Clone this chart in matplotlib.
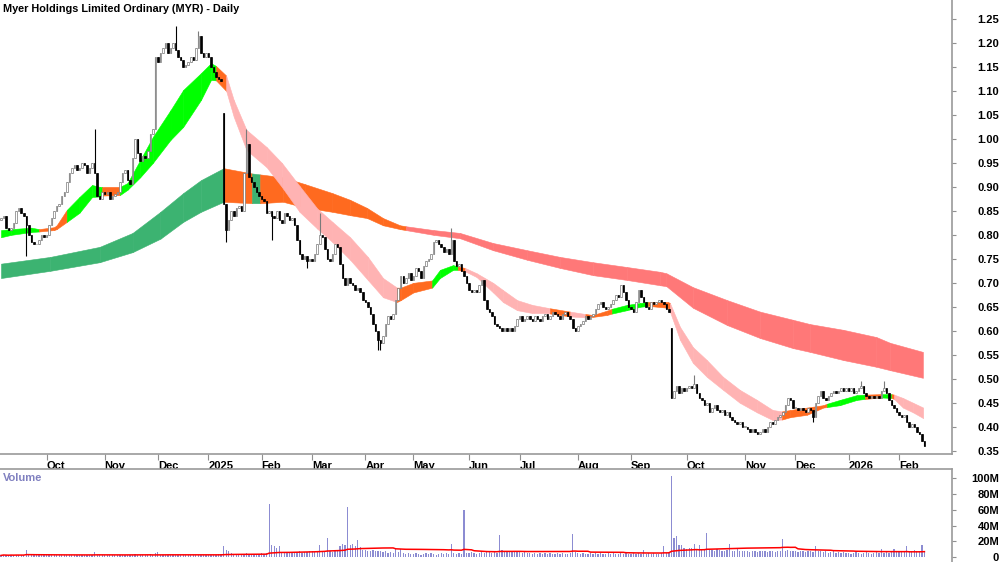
import numpy as np
import pandas as pd
import matplotlib
matplotlib.use('Agg')
import matplotlib.pyplot as plt
from matplotlib.transforms import ScaledTranslation

plt.rcParams['font.family'] = ['Liberation Sans', 'DejaVu Sans']

title = 'Myer Holdings Limited Ordinary (MYR) - Daily'

# ASX trading days shown on the chart
asx_holidays = ['2024-12-25', '2024-12-26', '2025-01-01', '2025-01-27', '2025-04-18',
                '2025-04-21', '2025-04-25', '2025-06-09', '2025-12-25', '2025-12-26',
                '2026-01-01', '2026-01-26']
dates = pd.bdate_range('2024-09-05', '2026-02-16', freq='C', holidays=asx_holidays)

# daily closes, month by month
close_sep24 = [0.835, 0.84, 0.815, 0.81, 0.815, 0.825, 0.85, 0.855, 0.845, 0.84, 0.82, 0.80,
               0.785, 0.78, 0.78, 0.79, 0.80, 0.795]
close_oct24 = [0.80, 0.82, 0.835, 0.85, 0.86, 0.865, 0.88, 0.89, 0.91, 0.93, 0.94, 0.945,
               0.935, 0.94, 0.95, 0.945, 0.93, 0.94, 0.95, 0.93, 0.88, 0.875, 0.89]
close_nov24 = [0.885, 0.89, 0.875, 0.88, 0.885, 0.89, 0.91, 0.93, 0.935, 0.915, 0.905, 0.96,
               1.0, 0.97, 0.955, 0.965, 0.96, 0.975, 1.01, 1.02, 1.17]
close_dec24 = [1.16, 1.18, 1.19, 1.20, 1.18, 1.19, 1.20, 1.185, 1.17, 1.165, 1.15, 1.155,
               1.16, 1.17, 1.165, 1.19, 1.215, 1.18, 1.17, 1.18]
close_jan25 = [1.17, 1.15, 1.14, 1.13, 1.125, 1.12, 0.865, 0.81, 0.83, 0.85, 0.84, 0.855,
               0.86, 0.85, 0.93, 0.99, 0.92, 0.91, 0.90, 0.89, 0.88]
close_feb25 = [0.875, 0.87, 0.845, 0.85, 0.84, 0.835, 0.85, 0.83, 0.825, 0.845, 0.84, 0.83,
               0.835, 0.82, 0.79, 0.76, 0.75, 0.755, 0.745, 0.75]
close_mar25 = [0.745, 0.76, 0.78, 0.80, 0.795, 0.77, 0.75, 0.745, 0.76, 0.78, 0.775, 0.74,
               0.71, 0.695, 0.71, 0.70, 0.695, 0.685, 0.69, 0.68, 0.665]
close_apr25 = [0.66, 0.65, 0.635, 0.615, 0.60, 0.58, 0.575, 0.59, 0.615, 0.63, 0.625, 0.635,
               0.665, 0.69, 0.715, 0.70, 0.71, 0.72, 0.705]
close_may25 = [0.715, 0.73, 0.725, 0.71, 0.735, 0.745, 0.75, 0.76, 0.785, 0.79, 0.78, 0.775,
               0.765, 0.77, 0.76, 0.79, 0.745, 0.735, 0.74, 0.725, 0.715, 0.70]
close_jun25 = [0.685, 0.68, 0.685, 0.68, 0.695, 0.705, 0.665, 0.645, 0.64, 0.63, 0.615, 0.61,
               0.605, 0.60, 0.605, 0.60, 0.605, 0.60, 0.61, 0.625]
close_jul25 = [0.63, 0.62, 0.625, 0.63, 0.625, 0.62, 0.63, 0.625, 0.62, 0.63, 0.635, 0.625,
               0.63, 0.64, 0.635, 0.63, 0.625, 0.635, 0.64, 0.63, 0.625, 0.605, 0.60]
close_aug25 = [0.61, 0.615, 0.62, 0.63, 0.625, 0.63, 0.635, 0.645, 0.655, 0.66, 0.65, 0.645,
               0.65, 0.655, 0.665, 0.675, 0.67, 0.695, 0.68, 0.665, 0.65]
close_sep25 = [0.645, 0.64, 0.66, 0.685, 0.67, 0.66, 0.65, 0.645, 0.66, 0.655, 0.66, 0.665,
               0.66, 0.655, 0.645, 0.64, 0.46, 0.475, 0.485, 0.47, 0.48, 0.475]
close_oct25 = [0.48, 0.485, 0.48, 0.49, 0.47, 0.46, 0.455, 0.445, 0.45, 0.43, 0.44, 0.445,
               0.435, 0.43, 0.435, 0.425, 0.43, 0.42, 0.415, 0.41, 0.405, 0.41, 0.40]
close_nov25 = [0.40, 0.395, 0.39, 0.395, 0.39, 0.385, 0.39, 0.395, 0.39, 0.40, 0.41, 0.405,
               0.415, 0.42, 0.425, 0.43, 0.445, 0.46, 0.455, 0.44]
close_dec25 = [0.44, 0.435, 0.44, 0.435, 0.43, 0.44, 0.435, 0.42, 0.45, 0.465, 0.475, 0.46,
               0.455, 0.465, 0.47, 0.475, 0.47, 0.475, 0.48, 0.475, 0.48]
close_jan26 = [0.475, 0.48, 0.47, 0.475, 0.48, 0.485, 0.47, 0.465, 0.46, 0.465, 0.46, 0.465,
               0.46, 0.475, 0.48, 0.47, 0.455, 0.445, 0.44, 0.43]
close_feb26 = [0.425, 0.42, 0.425, 0.41, 0.40, 0.405, 0.40, 0.39, 0.385, 0.37, 0.36]

# gap opens and the visible wick extremes (day index -> price)
gap_open = {0: 0.83, 88: 1.055, 265: 0.605}
wick_high = {37: 1.02, 69: 1.235, 78: 1.225, 97: 1.02, 126: 0.845, 178: 0.815,
             274: 0.508, 340: 0.495, 349: 0.495}
wick_low = {10: 0.755, 89: 0.785, 107: 0.79, 121: 0.73, 149: 0.56, 150: 0.56, 321: 0.41}

# volume in millions
vol_sep24 = [2, 3, 2, 2, 3, 2, 3, 2, 3, 2, 9, 3, 2, 3, 2, 2, 3, 2]
vol_oct24 = [3, 2, 2, 3, 2, 3, 2, 2, 3, 2, 3, 2, 2, 3, 2, 2, 3, 2, 3, 6, 3, 2, 3]
vol_nov24 = [2, 3, 2, 2, 3, 2, 3, 2, 2, 3, 2, 3, 4, 3, 2, 3, 2, 3, 4, 3, 5]
vol_dec24 = [6, 3, 2, 3, 2, 3, 2, 2, 3, 2, 2, 3, 2, 2, 3, 2, 3, 2, 2, 2]
vol_jan25 = [2, 3, 3, 3, 4, 4, 14, 9, 7, 5, 4, 4, 3, 3, 4, 5, 4, 3, 4, 3, 4]
vol_feb25 = [5, 4, 5, 67, 15, 14, 12, 14, 5, 6, 5, 5, 6, 5, 6, 7, 5, 6, 6, 7]
vol_mar25 = [7, 6, 8, 15, 7, 8, 24, 7, 6, 8, 7, 14, 16, 15, 63, 15, 17, 14, 21, 13, 9]
vol_apr25 = [9, 8, 7, 9, 8, 7, 8, 6, 7, 5, 6, 5, 11, 6, 10, 5, 4, 5, 4]
vol_may25 = [4, 5, 4, 3, 4, 5, 4, 5, 4, 3, 4, 5, 4, 5, 4, 16, 5, 4, 5, 4, 60, 5]
vol_jun25 = [5, 6, 5, 4, 5, 6, 5, 8, 6, 5, 6, 5, 28, 9, 7, 8, 6, 7, 6, 7]
vol_jul25 = [6, 5, 6, 5, 5, 4, 5, 4, 5, 4, 5, 4, 5, 4, 4, 5, 4, 5, 4, 4, 5, 29, 6]
vol_aug25 = [5, 4, 5, 4, 4, 5, 4, 5, 4, 5, 4, 4, 5, 4, 5, 4, 4, 5, 4, 5, 4]
vol_sep25 = [4, 5, 4, 5, 4, 9, 4, 5, 4, 5, 4, 4, 5, 14, 5, 6, 103, 24, 27, 15, 15, 12]
vol_oct25 = [10, 12, 11, 17, 9, 15, 10, 9, 30, 10, 9, 8, 10, 9, 8, 7, 9, 17, 8, 7, 12, 8, 7]
vol_nov25 = [7, 8, 6, 7, 8, 6, 7, 8, 7, 6, 8, 7, 6, 8, 7, 23, 8, 9, 7, 8]
vol_dec25 = [7, 6, 8, 7, 6, 7, 8, 6, 14, 8, 7, 6, 7, 5, 6, 7, 5, 6, 5, 6, 5]
vol_jan26 = [5, 4, 5, 6, 5, 4, 5, 6, 5, 4, 5, 6, 5, 10, 5, 6, 5, 6, 10, 6]
vol_feb26 = [7, 6, 8, 14, 7, 8, 9, 8, 7, 15, 8]

# short-term ribbon edges (day index, low, high, trend state)
st_day = [0, 4, 12, 15, 21, 22, 26, 31, 36, 39,
          40, 47, 50, 55, 60, 67, 72, 79, 83, 85,
          89, 92, 97, 105, 111, 118, 125, 131, 138, 145,
          151, 156.5, 158, 163, 170.4, 173.5, 178.7, 180.6, 183.4, 188,
          194.5, 198.4, 204, 210, 216, 217, 225, 231, 234, 239.5,
          241.5, 247.4, 252.6, 255.7, 263.6, 264.4, 268.4, 273.5, 279, 285.4,
          292, 298.8, 305, 308.7, 312, 318.6, 325, 326.5, 331.6, 338.3,
          341.5, 348, 352, 353, 356.5, 360.5, 364.5]
st_lo = [0.795, 0.800, 0.806, 0.807, 0.810, 0.812, 0.827, 0.846, 0.879, 0.880,
         0.882, 0.883, 0.894, 0.920, 0.950, 0.998, 1.025, 1.081, 1.123, 1.122,
         1.100, 1.046, 0.977, 0.941, 0.900, 0.848, 0.813, 0.785, 0.748, 0.706,
         0.670, 0.660, 0.664, 0.680, 0.690, 0.710, 0.727, 0.727, 0.724, 0.712,
         0.680, 0.660, 0.643, 0.637, 0.637, 0.636, 0.630, 0.628, 0.629, 0.633,
         0.636, 0.643, 0.650, 0.652, 0.648, 0.640, 0.581, 0.533, 0.504, 0.477,
         0.450, 0.430, 0.414, 0.415, 0.420, 0.425, 0.440, 0.441, 0.445, 0.456,
         0.458, 0.461, 0.460, 0.458, 0.440, 0.430, 0.418]
st_hi = [0.810, 0.812, 0.815, 0.812, 0.816, 0.820, 0.852, 0.879, 0.904, 0.900,
         0.900, 0.900, 0.908, 0.956, 1.004, 1.060, 1.102, 1.137, 1.158, 1.152,
         1.132, 1.081, 1.019, 0.983, 0.950, 0.902, 0.855, 0.827, 0.795, 0.754,
         0.710, 0.690, 0.690, 0.700, 0.705, 0.727, 0.737, 0.734, 0.731, 0.720,
         0.700, 0.685, 0.664, 0.654, 0.648, 0.647, 0.640, 0.635, 0.633, 0.642,
         0.646, 0.654, 0.658, 0.660, 0.660, 0.658, 0.608, 0.566, 0.539, 0.504,
         0.477, 0.456, 0.435, 0.432, 0.435, 0.440, 0.445, 0.448, 0.456, 0.466,
         0.467, 0.468, 0.468, 0.467, 0.460, 0.450, 0.440]
st_state = list('gggooogggg' 'oggggggggo' 'pppppppppp' 'pooogggopp'
                'pppppopooo' 'gggooppppp' 'pppoooogg g'.replace(' ', '') + 'ogopppp')

# long-term ribbon edges
lt_day = [0, 19.4, 39, 52, 63, 72, 79, 88, 99.2, 102.4, 111.5, 120, 131, 138, 144.7, 151,
          157.7, 160, 171, 181.4, 194.5, 208, 221, 234, 247.4, 260.5, 263, 273.5, 287, 300,
          313, 319.8, 333, 346, 351.4, 364.4]
lt_lo = [0.710, 0.725, 0.743, 0.764, 0.792, 0.827, 0.848, 0.869, 0.866, 0.866, 0.869, 0.857,
         0.848, 0.841, 0.835, 0.820, 0.812, 0.810, 0.800, 0.793, 0.768, 0.748, 0.731, 0.716,
         0.706, 0.695, 0.693, 0.648, 0.612, 0.585, 0.564, 0.556, 0.539, 0.525, 0.518, 0.502]
lt_hi = [0.740, 0.754, 0.775, 0.804, 0.848, 0.887, 0.914, 0.939, 0.928, 0.926, 0.920, 0.906,
         0.887, 0.873, 0.856, 0.835, 0.820, 0.818, 0.810, 0.804, 0.783, 0.768, 0.754, 0.743,
         0.733, 0.723, 0.720, 0.691, 0.664, 0.640, 0.623, 0.614, 0.602, 0.587, 0.575, 0.556]
lt_state = list('dddddddodoooooooo' + 'rrrrrrrrrrrrrrrrrrr')

ribbon_colors = {'g': '#00ff00', 'o': '#ff6a1f', 'p': '#ffb3b3', 'd': '#3cb371', 'r': '#ff7878'}

closes = np.array(close_sep24 + close_oct24 + close_nov24 + close_dec24 + close_jan25
                  + close_feb25 + close_mar25 + close_apr25 + close_may25 + close_jun25
                  + close_jul25 + close_aug25 + close_sep25 + close_oct25 + close_nov25
                  + close_dec25 + close_jan26 + close_feb26)
volume = np.array(vol_sep24 + vol_oct24 + vol_nov24 + vol_dec24 + vol_jan25 + vol_feb25
                  + vol_mar25 + vol_apr25 + vol_may25 + vol_jun25 + vol_jul25 + vol_aug25
                  + vol_sep25 + vol_oct25 + vol_nov25 + vol_dec25 + vol_jan26 + vol_feb26) * 1e6

n = len(closes)
x = np.arange(n)
opens = np.r_[closes[0], closes[:-1]]
for k, v in gap_open.items():
    opens[k] = v
body_lo = np.minimum(opens, closes)
body_hi = np.maximum(opens, closes)
highs = body_hi.copy()
lows = body_lo.copy()
for k, v in wick_high.items():
    highs[k] = v
for k, v in wick_low.items():
    lows[k] = v

fig = plt.figure(figsize=(10, 5.62), dpi=100)
ax = fig.add_axes([0, 1 - 454 / 562, 0.952, 454 / 562])
axv = fig.add_axes([0, 0, 0.952, 93 / 562])


def draw_ribbon(a, days, lo, hi, states):
    for k in range(len(days) - 1):
        c = ribbon_colors[states[k]]
        a.fill_between(days[k:k + 2], lo[k:k + 2], hi[k:k + 2], facecolor=c,
                       edgecolor=c, linewidth=0.4, zorder=1)


draw_ribbon(ax, lt_day, lt_lo, lt_hi, lt_state)
draw_ribbon(ax, st_day, st_lo, st_hi, st_state)

# candles
up = closes >= opens
ax.vlines(x[up], lows[up], highs[up], color='#7a7a7a', lw=0.8, zorder=3)
ax.vlines(x[~up], lows[~up], highs[~up], color='black', lw=0.8, zorder=3)
h = np.maximum(body_hi - body_lo, 0.002)
ax.bar(x[up], h[up], bottom=body_lo[up], width=0.6, facecolor='white',
       edgecolor='#7a7a7a', linewidth=0.5, zorder=4)
ax.bar(x[~up], h[~up], bottom=body_lo[~up], width=0.6, facecolor='black',
       edgecolor='black', linewidth=0.5, zorder=4)

ax.set_xlim(-0.4, 375.9)
ax.set_ylim(0.3432, 1.2896)

# month ticks at first trading day of each month
month = dates.month
starts = [i for i in range(1, n) if month[i] != month[i - 1]]
labels = [str(dates[i].year) if dates[i].month == 1 else dates[i].strftime('%b') for i in starts]
ax.set_xticks(starts)
ax.set_xticklabels(labels, fontsize=8, fontweight='bold', ha='left')
off = ScaledTranslation(3 / 100, 0, fig.dpi_scale_trans)
for lab in ax.get_xticklabels():
    lab.set_transform(lab.get_transform() + off)
ax.tick_params(axis='x', direction='out', length=4, width=0.8, color='#909090', pad=1)

yt = np.arange(0.35, 1.2501, 0.05)
ax.yaxis.tick_right()
ax.set_yticks(yt)
ax.set_yticklabels(['%.2f' % v for v in yt], fontsize=8, fontweight='bold', ha='right')
ax.tick_params(axis='y', direction='out', length=3, width=0.8, color='#909090', pad=31)

for s in ['top', 'left']:
    ax.spines[s].set_visible(False)
for s in ['bottom', 'right']:
    ax.spines[s].set_color('#9a9a9a')
    ax.spines[s].set_linewidth(1.2)

# volume panel
axv.bar(x, volume, width=0.5, color='#8c8cd2', zorder=2)
vol_ma = pd.Series(volume).rolling(50, min_periods=1).mean()
axv.plot(x, vol_ma, color='red', lw=1.1, zorder=3)
axv.set_xlim(-0.4, 375.9)
axv.set_ylim(-6.4e6, 112e6)
axv.set_xticks([])
vt = np.arange(0, 101e6, 20e6)
axv.yaxis.tick_right()
axv.set_yticks(vt)
axv.set_yticklabels(['0'] + ['%dM' % (v / 1e6) for v in vt[1:]], fontsize=8,
                    fontweight='bold', ha='right')
axv.tick_params(axis='y', direction='out', length=3, width=0.8, color='#909090', pad=31)
for s in ['bottom', 'left']:
    axv.spines[s].set_visible(False)
for s in ['top', 'right']:
    axv.spines[s].set_color('#9a9a9a')
    axv.spines[s].set_linewidth(1.2)
axv.text(0.003, 1 - 9 / 93, 'Volume', transform=axv.transAxes, fontsize=8,
         fontweight='bold', color='#8080c0', va='center', ha='left')

fig.text(0.003, 1 - 9 / 562, title, fontsize=7.8, fontweight='bold', va='center', ha='left')

fig.savefig('out.png', dpi=100)
